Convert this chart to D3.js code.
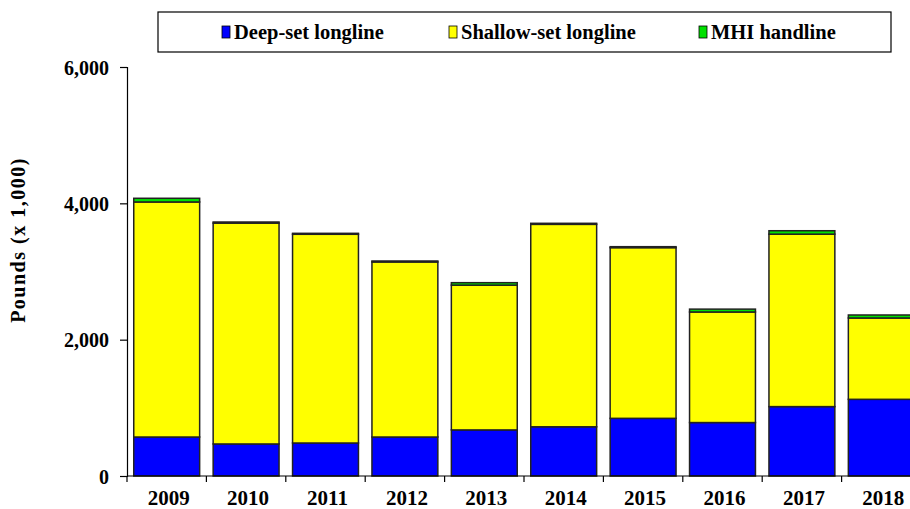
<!DOCTYPE html>
<html>
<head>
    <meta charset="utf-8" />
    <script src="https://d3js.org/d3.v7.min.js"></script>
    <style>
    body { margin: 0; background: #fff; }
    text { font-family: "Liberation Serif", "Times New Roman", serif; font-weight: bold; fill: #000; }
    </style>
</head>
<body>
<svg id="chart" width="910" height="509"></svg>
<script>
    // chart values (pounds x 1,000)
    var years = ["2009", "2010", "2011", "2012", "2013", "2014", "2015", "2016", "2017", "2018"];
    var deepSet = [572, 470, 484, 572, 676, 722, 846, 784, 1018, 1125];
    var shallowSet = [3448, 3240, 3062, 2568, 2124, 2970, 2504, 1622, 2530, 1193];
    var handline = [54, 16, 14, 14, 36, 15, 14, 42, 50, 44];
    var seriesNames = ["Deep-set longline", "Shallow-set longline", "MHI handline"];
    var seriesColors = ["#0000ff", "#ffff00", "#00e000"];
    var yTicks = [0, 2000, 4000, 6000];

    var svg = d3.select("#chart");

    var x = d3.scaleBand()
        .domain(years)
        .range([127, 921])
        .paddingInner(0.17)
        .paddingOuter(0.085);

    var y = d3.scaleLinear()
        .domain([0, 6000])
        .range([476, 67]);

    var rows = years.map(function(yr, i) {
        return { year: yr, deep: deepSet[i], shallow: shallowSet[i], mhi: handline[i] };
    });
    var stack = d3.stack().keys(["deep", "shallow", "mhi"]);
    var layers = stack(rows);

    // bars
    svg.selectAll("g.layer")
        .data(layers)
        .enter().append("g")
        .attr("class", "layer")
        .attr("fill", function(d, i) { return seriesColors[i]; })
        .selectAll("rect")
        .data(function(d) { return d; })
        .enter().append("rect")
        .attr("x", function(d) { return x(d.data.year); })
        .attr("width", x.bandwidth())
        .attr("y", function(d) { return y(d[1]); })
        .attr("height", function(d) { return y(d[0]) - y(d[1]); })
        .attr("stroke", "#222")
        .attr("stroke-width", 1.5);

    // y axis
    var yAxis = svg.append("g")
        .attr("transform", "translate(127,0)")
        .call(d3.axisLeft(y).tickValues(yTicks).tickSize(7).tickFormat(d3.format(",")));
    yAxis.select(".domain").attr("stroke", "#000").attr("stroke-width", 1.2);
    yAxis.selectAll(".tick line").attr("stroke", "#000").attr("stroke-width", 1.2);
    yAxis.selectAll(".tick text")
        .attr("x", -18)
        .attr("dy", "0.36em")
        .style("font-size", "20px")
        .style("font-family", "'Liberation Serif', serif")
        .style("font-weight", "bold");

    // x axis
    var xAxis = svg.append("g")
        .attr("transform", "translate(0,476)")
        .call(d3.axisBottom(x).tickSize(0).tickSizeOuter(0));
    xAxis.select(".domain").attr("stroke", "#000").attr("stroke-width", 1.2)
        .attr("d", "M127,0H910");
    xAxis.selectAll(".tick text")
        .attr("y", 0)
        .attr("dy", 29)
        .attr("dx", 2)
        .style("font-size", "21px")
        .style("font-family", "'Liberation Serif', serif")
        .style("font-weight", "bold");
    // separator ticks between bands
    var edges = years.map(function(yr) { return x(yr) - x.step() * x.paddingOuter(); });
    xAxis.selectAll("line.sep")
        .data(edges)
        .enter().append("line")
        .attr("class", "sep")
        .attr("x1", function(d) { return d; })
        .attr("x2", function(d) { return d; })
        .attr("y1", 0)
        .attr("y2", 6)
        .attr("stroke", "#000")
        .attr("stroke-width", 1.2);

    // y label
    svg.append("text")
        .attr("transform", "translate(25,240) rotate(-90)")
        .attr("text-anchor", "middle")
        .style("font-size", "20px")
        .style("letter-spacing", "1.5px")
        .text("Pounds  (x 1,000)");

    // legend
    var legend = svg.append("g");
    legend.append("rect")
        .attr("x", 158).attr("y", 12)
        .attr("width", 733).attr("height", 40)
        .attr("fill", "#fff").attr("stroke", "#000").attr("stroke-width", 1.2);
    var legendX = [222, 449, 699];
    var items = legend.selectAll("g.item")
        .data(seriesNames)
        .enter().append("g")
        .attr("class", "item")
        .attr("transform", function(d, i) { return "translate(" + legendX[i] + ",32)"; });
    items.append("rect")
        .attr("x", 0).attr("y", -6)
        .attr("width", 8).attr("height", 12)
        .attr("fill", function(d, i) { return seriesColors[i]; })
        .attr("stroke", "#000").attr("stroke-width", 0.8);
    items.append("text")
        .attr("x", 12)
        .attr("dy", "0.35em")
        .style("font-size", "20.5px")
        .text(function(d) { return d; });
</script>
</body>
</html>
